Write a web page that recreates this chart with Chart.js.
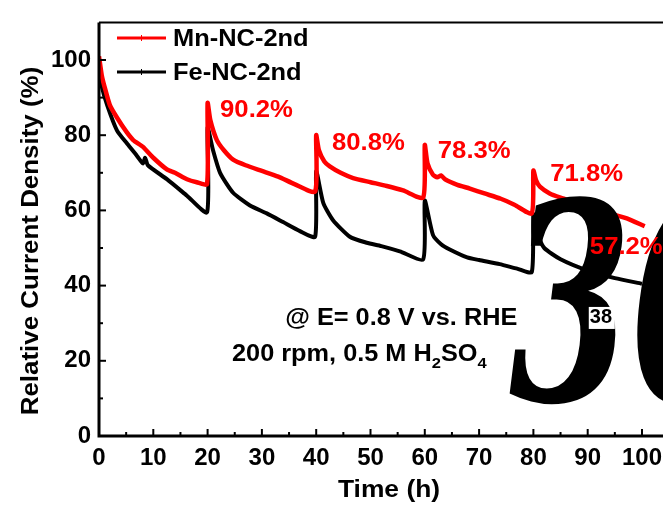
<!DOCTYPE html>
<html>
<head>
<meta charset="utf-8">
<script src="https://cdn.jsdelivr.net/npm/chart.js@4.4.1/dist/chart.umd.min.js"></script>
<style>
  html, body { margin: 0; padding: 0; background: #fff; overflow: hidden; }
  #wrap { width: 700px; height: 505px; }
</style>
</head>
<body>
<div id="wrap"><canvas id="chart" width="700" height="505"></canvas></div>
<script>
// Mn-NC-2nd (red)
const mnTime = [0, 0.5, 1, 2, 3.3, 5, 6.3, 8.1, 10, 12.5, 14, 16.2, 18, 19.9,
    20, 20.5, 21.7, 23, 24.7, 27, 30, 33, 36, 39.8,
    40, 40.5, 41.5, 42.5, 44.5, 46.8, 50, 53, 56, 59.7,
    60, 60.5, 61.5, 62.3, 63, 63.8, 66, 68.3, 71, 74, 76.5, 79.7,
    80, 80.5, 81.2, 83, 85, 88, 91, 94, 97.2, 100.5];
const mnValues = [101, 96, 93, 88, 84.7, 81, 78.7, 76.9, 74, 70.9, 70, 68.3, 67.5, 67,
    88.6, 84, 78.7, 76, 73.5, 72, 70.5, 69, 67, 65,
    80, 76, 73, 71.7, 70, 68.6, 67.5, 66.5, 65.3, 63.4,
    77.4, 72.5, 69.5, 68.8, 69.3, 68.2, 66.8, 65.8, 64.5, 63.1, 61.5, 59.2,
    70.6, 68, 66.3, 64.5, 63.4, 62, 60.5, 59.2, 57.9, 55.8];

// Fe-NC-2nd (black)
const feTime = [0, 0.5, 1.5, 3.3, 5.2, 7, 8.1, 8.5, 9, 12.5, 16.2, 19.9,
    20, 21, 22.3, 24.7, 27.8, 30.9, 33.9, 37, 39.8,
    40, 41.3, 43.1, 46.2, 49.3, 52, 55.4, 59.7,
    60, 61.5, 63, 64.6, 67.8, 70, 73.8, 77, 79.7,
    80, 81, 82, 85, 90, 95, 100];
const feValues = [97.5, 93, 88, 81.3, 77.7, 74.5, 72.5, 74, 72, 68.3, 63.9, 59.5,
    82, 76, 70, 64.7, 61.3, 59.2, 56.9, 54.5, 53,
    70.4, 62, 57.4, 53, 51.4, 50.5, 49.1, 47,
    62.6, 53.5, 51, 49.6, 47.5, 46.8, 45.7, 44.5, 43.6,
    59, 53, 50, 47, 44, 42, 40.5];

const seriesNames = ['Mn-NC-2nd', 'Fe-NC-2nd'];
const seriesColors = ['#ff0000', '#000000'];

const xTickValues = [0, 10, 20, 30, 40, 50, 60, 70, 80, 90, 100];
const yTickValues = [0, 20, 40, 60, 80, 100];

// retention labels, anchored in data units (time, %)
const retentionLabels = ['90.2%', '80.8%', '78.3%', '71.8%', '57.2%'];
const retentionTime = [22.3, 42.9, 62.4, 83.1, 90.4];
const retentionValue = [86.5, 77.7, 75.6, 69.6, 50.1];

const xTitle = 'Time (h)';
const yTitle = 'Relative Current Density (%)';

function toPoints(xs, ys) {
    return xs.map((x, i) => ({ x: x, y: ys[i] }));
}

const FONT = 'Liberation Sans, Arial, sans-serif';

// text drawn a little wider than Arial, as in the figure
function wideText(ctx, s, x, y, sx) {
    ctx.save();
    ctx.translate(x, y);
    ctx.scale(sx, 1);
    ctx.fillText(s, 0, 0);
    const w = ctx.measureText(s).width * sx;
    ctx.restore();
    return w;
}

const overlay = {
    id: 'overlay',
    afterDatasetsDraw(chart) {
        const ctx = chart.ctx;
        const xs = chart.scales.x, ys = chart.scales.y;
        const a = chart.chartArea;
        ctx.save();

        // frame
        ctx.strokeStyle = '#000';
        ctx.lineWidth = 2;
        ctx.beginPath();
        ctx.moveTo(a.left, a.top); ctx.lineTo(a.right, a.top); ctx.lineTo(a.right, a.bottom);
        ctx.stroke();
        ctx.lineWidth = 3;
        ctx.beginPath();
        ctx.moveTo(a.left, a.top); ctx.lineTo(a.left, a.bottom); ctx.lineTo(a.right, a.bottom);
        ctx.stroke();

        // inward ticks
        ctx.lineWidth = 2;
        for (let v = 0; v <= 105; v += 5) {
            const px = xs.getPixelForValue(v);
            const len = v % 10 === 0 ? 7 : 4;
            ctx.beginPath(); ctx.moveTo(px, a.bottom); ctx.lineTo(px, a.bottom - len); ctx.stroke();
        }
        for (let v = 0; v <= 100; v += 10) {
            const py = ys.getPixelForValue(v);
            const len = v % 20 === 0 ? 7 : 4;
            ctx.beginPath(); ctx.moveTo(a.left, py); ctx.lineTo(a.left + len, py); ctx.stroke();
        }

        // big stray glyph
        ctx.save();
        ctx.fillStyle = '#000';
        ctx.font = 'italic bold 275px "DejaVu Serif", serif';
        ctx.textBaseline = 'alphabetic';
        ctx.textAlign = 'left';
        ctx.translate(xs.getPixelForValue(75.5), ys.getPixelForValue(9.5));
        ctx.scale(0.64, 1);
        ctx.fillText('30', 0, 0);
        ctx.restore();

        // retention labels
        ctx.fillStyle = '#ff0000';
        ctx.font = 'bold 24px ' + FONT;
        ctx.textAlign = 'left';
        ctx.textBaseline = 'middle';
        retentionLabels.forEach((t, i) => {
            wideText(ctx, t, xs.getPixelForValue(retentionTime[i]), ys.getPixelForValue(retentionValue[i]), 1.07);
        });

        // condition notes
        ctx.fillStyle = '#000';
        ctx.font = 'bold 23px ' + FONT;
        wideText(ctx, '@ E= 0.8 V vs. RHE', xs.getPixelForValue(34.3), ys.getPixelForValue(31.2), 1.1);
        let x = xs.getPixelForValue(24.5);
        const y = ys.getPixelForValue(21.6);
        const parts = [['200 rpm, 0.5 M H', 0], ['2', 1], ['SO', 0], ['4', 1]];
        parts.forEach(([s, sub]) => {
            ctx.font = sub ? 'bold 15px ' + FONT : 'bold 23px ' + FONT;
            x += wideText(ctx, s, x, sub ? y + 9 : y, 1.1);
        });
        ctx.font = 'bold 20px ' + FONT;
        ctx.fillStyle = '#fff';
        ctx.fillRect(xs.getPixelForValue(90.2), ys.getPixelForValue(31.4) - 11, 26, 22);
        ctx.fillStyle = '#000';
        ctx.fillText('38', xs.getPixelForValue(90.4), ys.getPixelForValue(31.4));

        // legend
        ctx.font = 'bold 24px ' + FONT;
        chart.data.datasets.forEach((ds, i) => {
            const ly = 38 + i * 34;
            ctx.strokeStyle = ds.borderColor;
            ctx.lineWidth = 3;
            ctx.beginPath(); ctx.moveTo(117, ly); ctx.lineTo(166, ly); ctx.stroke();
            ctx.lineWidth = 1;
            ctx.beginPath(); ctx.moveTo(141.5, ly - 3); ctx.lineTo(141.5, ly + 3); ctx.stroke();
            ctx.fillStyle = '#000';
            wideText(ctx, ds.label, 173, ly + 1, 1.06);
        });

        // axis titles
        ctx.font = 'bold 24px ' + FONT;
        ctx.textAlign = 'center';
        wideText(ctx, xTitle, 389, 490, 1.1);
        ctx.save();
        ctx.translate(31, 241);
        ctx.rotate(-Math.PI / 2);
        ctx.scale(1.08, 1);
        ctx.fillText(yTitle, 0, 0);
        ctx.restore();

        ctx.restore();
    }
};

new Chart(document.getElementById('chart'), {
    type: 'line',
    data: {
        datasets: [
            {
                label: seriesNames[0],
                data: toPoints(mnTime, mnValues),
                borderColor: seriesColors[0],
                borderWidth: 4.5,
                pointRadius: 0,
                tension: 0.2,
                borderJoinStyle: 'round'
            },
            {
                label: seriesNames[1],
                data: toPoints(feTime, feValues),
                borderColor: seriesColors[1],
                borderWidth: 4,
                pointRadius: 0,
                tension: 0.2,
                borderJoinStyle: 'round'
            }
        ]
    },
    options: {
        responsive: false,
        animation: false,
        layout: { padding: { top: 13, right: 20, left: 0, bottom: 0 } },
        plugins: { legend: { display: false }, tooltip: { enabled: false } },
        scales: {
            x: {
                type: 'linear',
                min: 0, max: 107,
                grid: { display: false, drawTicks: false },
                border: { display: false },
                afterBuildTicks: s => { s.ticks = xTickValues.map(v => ({ value: v })); },
                ticks: {
                    padding: 8,
                    autoSkip: false,
                    maxRotation: 0,
                    color: '#000',
                    font: { family: FONT, size: 24, weight: 'bold' }
                },
                afterFit: s => { s.height = 69; }
            },
            y: {
                min: 0, max: 110,
                grid: { display: false, drawTicks: false },
                border: { display: false },
                afterBuildTicks: s => { s.ticks = yTickValues.map(v => ({ value: v })); },
                ticks: {
                    padding: 8,
                    color: '#000',
                    font: { family: FONT, size: 24, weight: 'bold' }
                },
                afterFit: s => { s.width = 99; }
            }
        }
    },
    plugins: [overlay]
});
</script>
</body>
</html>
